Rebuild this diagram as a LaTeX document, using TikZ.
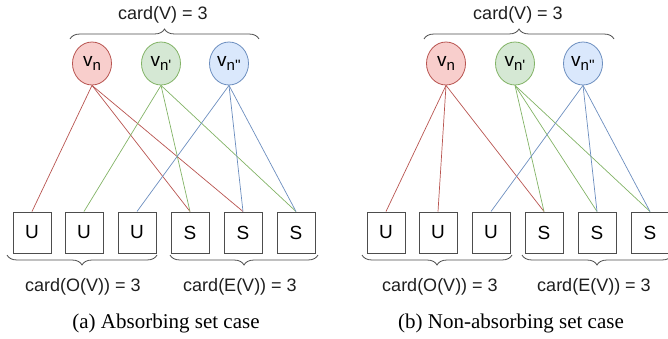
\documentclass[tikz,border=0pt]{standalone}
\usepackage{fontspec}
\setmainfont{Liberation Serif}
\newfontfamily\dio{Liberation Sans}[Ligatures=TeXOff]
\usetikzlibrary{shapes.geometric,decorations.pathreplacing}
\definecolor{rf}{HTML}{F8CECC}\definecolor{rs}{HTML}{B85450}
\definecolor{gf}{HTML}{D5E8D4}\definecolor{gs}{HTML}{82B366}
\definecolor{bf}{HTML}{DAE8FC}\definecolor{bs}{HTML}{6C8EBF}
\definecolor{bx}{HTML}{4D4D4D}
\newcommand{\vlab}[1]{v{\fontsize{15}{15}\selectfont\raisebox{-3.5pt}{#1}}}
\tikzset{
  vnode/.style={ellipse, minimum width=39pt, minimum height=43pt, inner sep=0pt, line width=0.8pt, font=\dio\fontsize{19}{19}\selectfont},
  rnode/.style={vnode, fill=rf, draw=rs},
  gnode/.style={vnode, fill=gf, draw=gs},
  bnode/.style={vnode, fill=bf, draw=bs},
  cbox/.style={rectangle, draw=bx, line width=1pt, minimum width=38pt, minimum height=41pt, inner sep=0pt, fill=white, font=\dio\fontsize{19}{19}\selectfont},
  lbl/.style={font=\dio\fontsize{18}{18}\selectfont, text=black!88, inner sep=0pt},
  captxt/.style={font=\fontsize{21}{21}\selectfont, inner sep=0pt},
  br/.style={decorate, decoration={brace, amplitude=10pt}, draw=black!70, line width=0.8pt},
  re/.style={draw=rs, line width=0.7pt},
  ge/.style={draw=gs, line width=0.7pt},
  be/.style={draw=bs, line width=0.7pt},
}
\begin{document}
\begin{tikzpicture}[x=1pt,y=-1pt]
\useasboundingbox (0,0) rectangle (668,339);
% ---------- left panel ----------
\node[rnode] (a1) at (92,63.5) {\vlab{n}};
\node[gnode] (a2) at (161,63.5) {\vlab{n'}};
\node[bnode] (a3) at (229,63.5) {\vlab{n''}};
\node[cbox] (au1) at (32,232.5) {U};
\node[cbox] (au2) at (84,232.5) {U};
\node[cbox] (au3) at (137,232.5) {U};
\node[cbox] (as1) at (190,232.5) {S};
\node[cbox] (as2) at (243,232.5) {S};
\node[cbox] (as3) at (296,232.5) {S};
\draw[re] (a1.south) -- (au1.north);
\draw[re] (a1.south) -- (as1.north);
\draw[re] (a1.south) -- (as2.north);
\draw[ge] (a2.south) -- (au2.north);
\draw[ge] (a2.south) -- (as1.north);
\draw[ge] (a2.south) -- (as3.north);
\draw[be] (a3.south) -- (au3.north);
\draw[be] (a3.south) -- (as2.north);
\draw[be] (a3.south) -- (as3.north);
\coordinate (atl) at (70,39); \coordinate (atr) at (259,39);
\coordinate (aol) at (7,255); \coordinate (aor) at (157,255);
\coordinate (ael) at (170,255); \coordinate (aer) at (318,255);
\draw[br] (atl) -- (atr);
\draw[br] (aor) -- (aol);
\draw[br] (aer) -- (ael);
\node[lbl] (atv) at (163,15) {card(V) = 3};
\node[lbl] (ato) at (83,287) {card(O(V)) = 3};
\node[lbl] (ate) at (240,287) {card(E(V)) = 3};
\node[captxt] (acap) at (166,323) {(a) Absorbing set case};
% ---------- right panel ----------
\node[rnode] (b1) at (446,63.5) {\vlab{n}};
\node[gnode] (b2) at (515,63.5) {\vlab{n'}};
\node[bnode] (b3) at (583,63.5) {\vlab{n''}};
\node[cbox] (bu1) at (386,232.5) {U};
\node[cbox] (bu2) at (438,232.5) {U};
\node[cbox] (bu3) at (491,232.5) {U};
\node[cbox] (bs1) at (544,232.5) {S};
\node[cbox] (bs2) at (597,232.5) {S};
\node[cbox] (bs3) at (650,232.5) {S};
\draw[re] (b1.south) -- (bu1.north);
\draw[re] (b1.south) -- (bu2.north);
\draw[re] (b1.south) -- (bs1.north);
\draw[ge] (b2.south) -- (bs1.north);
\draw[ge] (b2.south) -- (bs2.north);
\draw[ge] (b2.south) -- (bs3.north);
\draw[be] (b3.south) -- (bu3.north);
\draw[be] (b3.south) -- (bs2.north);
\draw[be] (b3.south) -- (bs3.north);
\coordinate (btl) at (424,39); \coordinate (btr) at (614,39);
\coordinate (bol) at (362,255); \coordinate (bor) at (512,255);
\coordinate (bel) at (522,255); \coordinate (ber) at (672,255);
\draw[br] (btl) -- (btr);
\draw[br] (bor) -- (bol);
\draw[br] (ber) -- (bel);
\node[lbl] (btv) at (518,15) {card(V) = 3};
\node[lbl] (bto) at (440,287) {card(O(V)) = 3};
\node[lbl] (bte) at (594,287) {card(E(V)) = 3};
\node[captxt] (bcap) at (511,323) {(b) Non-absorbing set case};
\end{tikzpicture}
\end{document}
